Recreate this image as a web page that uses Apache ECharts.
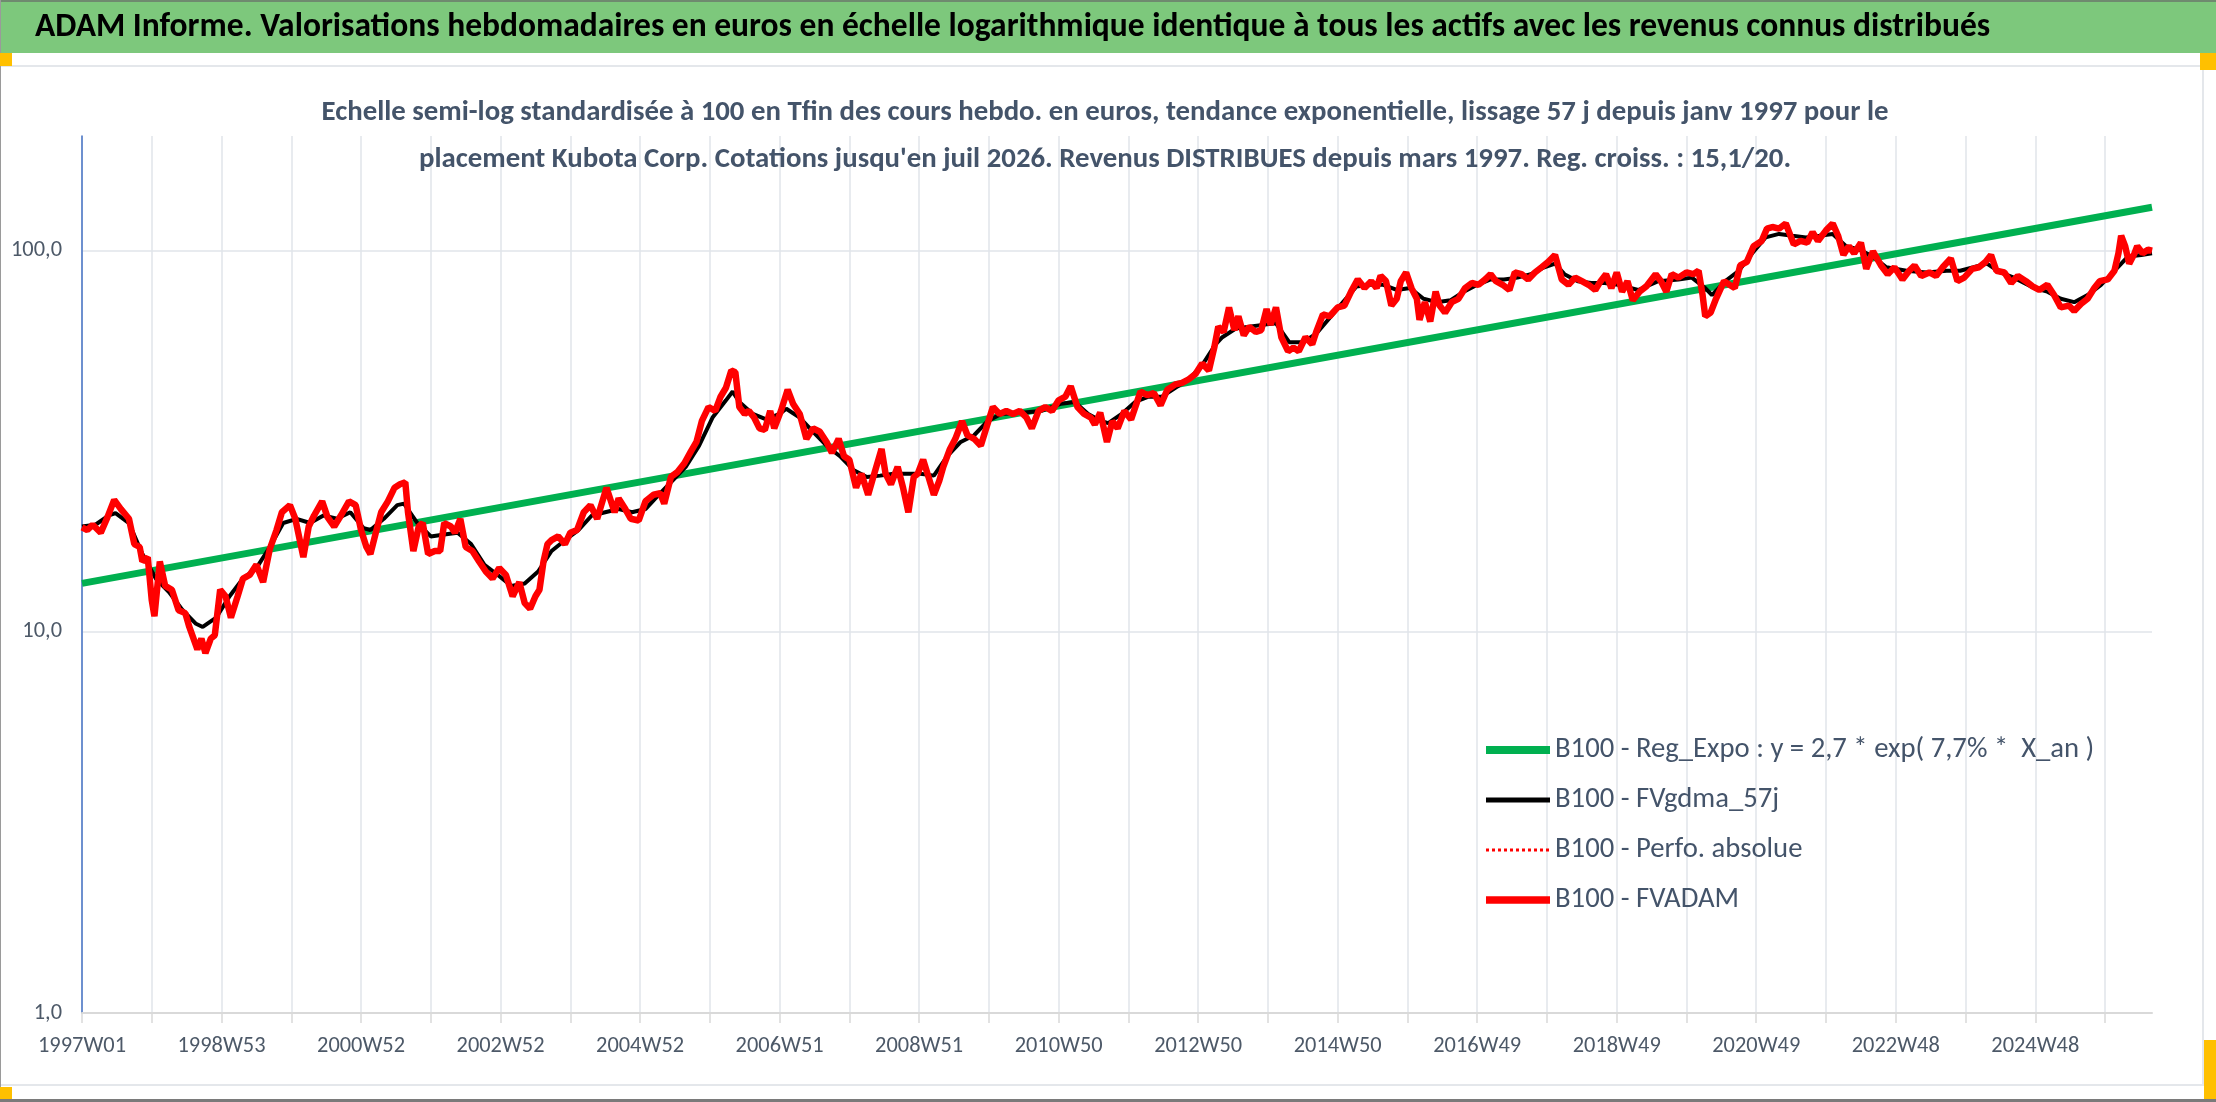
<!DOCTYPE html>
<html>
<head>
<meta charset="utf-8">
<script src="https://cdn.jsdelivr.net/npm/echarts@6/dist/echarts.min.js"></script>
<style>
  html, body { margin: 0; padding: 0; background: #fff; }
  #chart { width: 2216px; height: 1102px; }
</style>
</head>
<body>
<div id="chart"></div>
<script>
// semaines ISO : 1544 semaines à partir de 1997W01 (lundi 30/12/1996)
var firstMonday = Date.UTC(1996, 11, 30);
var weekCount = 1544;

// FVADAM (et Perfo. absolue) : [indice de semaine, valeur base 100]
var redIdx = [0,4,8,14,19,24,29,35,39,43,45,49,52,54,58,62,67,72,77,80,86,89,92,96,99,103,107,111,116,120,125,130,135,140,145,149,155,159,165,169,173,179,183,188,193,199,204,208,212,215,219,223,228,233,237,241,243,247,251,254,258,263,267,270,275,278,282,286,291,296,301,306,311,316,321,326,330,334,338,341,344,347,350,355,360,364,369,374,379,384,391,397,400,405,409,415,420,426,431,434,439,444,449,454,458,462,467,472,476,480,484,487,490,494,497,501,505,509,513,516,521,526,530,535,540,545,550,555,559,564,568,572,577,581,586,589,596,599,603,608,612,616,620,623,627,631,635,639,642,647,651,656,660,665,670,674,679,684,689,694,699,704,708,713,718,723,728,733,737,742,747,752,755,759,764,768,772,777,782,786,789,794,799,804,809,815,820,825,830,835,840,844,847,851,855,859,862,866,870,875,879,883,886,890,894,899,903,907,912,917,920,925,930,936,941,946,951,956,961,965,968,972,976,980,983,987,991,995,997,1001,1005,1009,1012,1016,1021,1026,1031,1036,1041,1046,1050,1054,1059,1064,1068,1073,1078,1083,1088,1093,1098,1103,1108,1113,1118,1123,1128,1132,1136,1140,1144,1148,1152,1156,1161,1166,1173,1177,1181,1185,1190,1196,1201,1205,1208,1210,1214,1218,1224,1228,1232,1236,1241,1246,1252,1256,1260,1265,1270,1276,1281,1286,1290,1294,1300,1305,1309,1313,1317,1321,1326,1330,1335,1341,1346,1351,1357,1362,1366,1371,1377,1382,1387,1393,1398,1403,1409,1414,1419,1423,1427,1433,1438,1443,1449,1454,1459,1465,1470,1475,1481,1485,1490,1495,1500,1504,1510,1515,1518,1520,1523,1526,1530,1532,1536,1540,1543];
var redVal = [18.8,18.5,19.1,18.2,20.0,22.2,21.0,19.8,17.0,16.7,15.3,15.7,12.1,11.0,15.3,13.2,12.9,11.4,11.2,10.3,9.0,9.6,8.8,9.6,9.8,12.9,12.4,10.9,12.4,13.8,14.1,15.0,13.5,16.5,18.5,20.6,21.5,19.8,15.7,18.9,20.2,22.0,20.0,18.9,20.2,22.0,21.5,18.5,16.7,16.0,18.2,20.6,22.0,23.9,24.4,24.7,20.6,16.3,18.9,19.3,16.0,16.3,16.3,19.3,18.9,18.2,19.8,16.7,16.3,15.3,14.4,13.8,14.7,14.1,12.4,13.5,11.9,11.5,12.4,12.9,15.3,17.0,17.4,17.8,17.0,18.2,18.5,20.6,21.5,19.8,23.9,20.6,22.4,21.0,19.8,19.6,22.0,22.9,23.1,21.7,25.5,26.3,27.7,29.8,31.5,35.7,38.9,38.0,41.4,43.7,48.5,48.0,38.9,37.3,38.0,36.5,34.2,33.9,38.0,34.2,38.0,43.2,39.7,37.3,32.1,34.2,33.5,31.5,29.5,32.1,28.9,28.3,23.9,26.0,22.9,24.9,30.2,26.0,24.4,27.1,23.9,20.6,25.5,26.0,28.3,25.5,22.9,24.9,27.1,30.2,32.1,35.7,32.8,32.1,30.8,34.2,38.9,37.3,38.0,37.3,38.0,36.5,34.2,38.0,38.9,38.0,40.5,41.4,44.1,38.9,37.3,36.5,35.0,37.6,31.5,35.7,34.2,38.0,36.1,39.7,42.7,41.8,42.3,39.3,43.2,44.6,45.0,46.0,47.5,50.6,48.5,55.7,63.2,61.2,71.0,61.9,67.3,60.0,63.2,61.2,61.9,70.3,63.9,71.0,59.3,54.5,55.7,54.5,59.3,56.8,61.2,68.1,67.3,71.0,71.8,78.1,84.1,79.8,83.2,79.8,85.9,83.2,71.8,74.8,83.2,87.7,79.8,74.8,65.9,73.3,65.2,78.1,71.8,68.8,73.3,74.8,79.8,82.3,81.4,84.1,86.8,83.2,81.4,78.9,87.7,86.8,84.1,87.7,90.5,93.5,97.5,84.1,81.4,85.0,83.2,81.4,78.9,83.2,86.8,79.8,87.7,78.1,83.2,74.1,78.1,80.6,86.8,83.2,78.1,86.8,85.0,87.7,86.8,88.6,76.5,67.3,68.8,74.8,83.2,81.4,79.8,91.5,93.5,102.8,106.1,114.3,115.4,114.3,117.9,103.9,106.1,105.0,111.9,106.1,113.1,117.9,109.5,97.5,102.8,98.5,105.0,89.6,99.6,91.5,86.8,90.5,84.1,88.6,91.5,85.9,87.7,85.9,90.5,95.5,83.2,85.0,89.6,90.5,93.5,97.5,88.6,87.7,82.3,85.9,83.2,80.6,78.9,81.4,76.5,71.0,71.8,69.5,72.5,74.8,79.8,83.2,84.1,88.6,98.5,109.5,102.8,92.5,98.5,102.8,98.5,100.6,100.0];

// FVgdma_57j (moyenne lissée)
var blackIdx = [0,10,20,25,35,45,55,65,75,85,90,100,110,120,130,140,150,160,170,180,190,200,210,215,225,235,240,250,260,270,280,290,300,310,320,330,340,350,360,370,380,390,400,410,420,430,440,450,460,470,480,485,490,500,510,520,525,535,545,555,565,575,585,595,605,615,625,635,645,655,665,675,685,700,715,730,740,750,760,765,775,785,795,805,815,825,835,845,850,860,870,880,890,900,910,920,930,940,950,960,970,980,990,1000,1010,1020,1030,1040,1050,1060,1070,1080,1090,1098,1105,1115,1125,1135,1145,1160,1175,1190,1200,1210,1215,1225,1235,1245,1255,1265,1275,1285,1295,1305,1315,1325,1335,1345,1360,1375,1390,1400,1410,1420,1430,1440,1455,1465,1475,1485,1495,1505,1515,1525,1535,1543];
var blackVal = [18.9,19.1,20.2,20.5,19.3,16.0,13.8,12.7,11.4,10.5,10.3,10.9,12.4,13.8,14.7,16.7,19.3,19.8,19.3,20.2,19.8,20.6,18.7,18.5,19.8,21.5,21.7,19.3,17.8,18.0,18.2,17.0,15.0,14.1,13.2,13.4,14.4,16.3,17.4,18.5,20.2,20.6,21.0,20.6,21.0,22.9,24.9,27.1,30.8,36.5,40.5,42.7,40.1,37.3,36.1,37.3,38.5,36.5,33.5,30.8,28.9,26.6,25.5,25.7,26.0,26.0,26.0,25.7,28.9,31.5,32.8,35.7,37.3,37.6,38.0,39.7,40.1,37.3,35.7,35.3,37.3,40.1,41.4,41.4,43.7,46.0,50.1,56.8,59.3,62.5,63.2,63.9,64.5,57.5,57.5,60.6,66.6,73.3,80.6,81.4,81.4,78.9,79.8,74.8,73.3,74.1,78.1,81.4,84.1,84.1,85.0,86.8,90.5,92.5,86.8,83.2,82.3,82.3,81.4,78.9,83.2,84.1,85.0,79.8,76.5,83.2,88.6,98.5,108.4,110.7,109.5,108.4,109.5,110.7,102.8,100.6,96.5,90.5,88.6,87.7,88.6,88.6,90.5,92.5,87.7,85.0,79.8,78.1,74.8,73.3,76.5,81.4,88.6,96.5,97.5,98.5];

// tendance exponentielle : extrémités
var trendIdx = [0, 1543];
var trendVal = [13.4, 130];

var yTickLabels = {1: '1,0', 10: '10,0', 100: '100,0'};

var seriesNames = [
  'B100 - Reg_Expo : y = 2,7 * exp( 7,7% *  X_an )',
  'B100 - FVgdma_57j',
  'B100 - Perfo. absolue',
  'B100 - FVADAM'
];
var seriesColors = ['#00b050', '#000000', '#ff0000', '#ff0000'];
var seriesWidths = [7, 4, 2, 6.5];

var headerText = 'ADAM Informe. Valorisations hebdomadaires en euros en échelle logarithmique identique à tous les actifs avec les revenus connus distribués';
var subLine1 = 'Echelle semi-log standardisée à 100 en Tfin des cours hebdo. en euros, tendance exponentielle, lissage 57 j depuis janv 1997 pour le';
var subLine2 = "placement Kubota Corp. Cotations jusqu'en juil 2026. Revenus DISTRIBUES depuis mars 1997. Reg. croiss. : 15,1/20.";

function isoWeekLabel(ms) {
  var thu = new Date(ms + 3 * 86400000);
  var y = thu.getUTCFullYear();
  var wk = Math.floor((thu - Date.UTC(y, 0, 1)) / 86400000 / 7) + 1;
  return y + 'W' + (wk < 10 ? '0' + wk : wk);
}
var weeks = [];
for (var i = 0; i < weekCount; i++) {
  weeks.push(isoWeekLabel(firstMonday + i * 7 * 86400000));
}

function pairs(idx, val) {
  return idx.map(function (x, k) { return [x, val[k]]; });
}

var FONT = 'Carlito, Calibri, Lato, sans-serif';
// taille de police ajustée pour retrouver la largeur du texte d'origine
var ctx = document.createElement('canvas').getContext('2d');
function fitSize(text, weight, target) {
  ctx.font = weight + ' 100px ' + FONT;
  return Math.round(1000 * target / ctx.measureText(text).width) / 10;
}
var headerSize = fitSize(headerText, 'bold', 1953);
var subSize = fitSize(subLine1, 'bold', 1567);
var legendSize = fitSize(seriesNames[0], 'normal', 540);
var axisSize = fitSize('1997W01', 'normal', 88);

var myChart = echarts.init(document.getElementById('chart'));
var option = {
  animation: false,
  backgroundColor: '#ffffff',
  textStyle: { fontFamily: FONT },
  graphic: [
    { type: 'rect', shape: { x: 0, y: 0, width: 2216, height: 2 }, style: { fill: '#6f8a6f' } },
    { type: 'rect', shape: { x: 0, y: 2, width: 2216, height: 51 }, style: { fill: '#7dc87c' } },
    { type: 'rect', shape: { x: 0, y: 65, width: 2204, height: 2 }, style: { fill: '#e4e7eb' } },
    { type: 'rect', shape: { x: 2202, y: 66, width: 2, height: 1020 }, style: { fill: '#e4e7eb' } },
    { type: 'rect', shape: { x: 0, y: 1084, width: 2204, height: 2 }, style: { fill: '#e4e7eb' } },
    { type: 'rect', shape: { x: 0, y: 0, width: 1, height: 1102 }, style: { fill: '#9a9a9a' } },
    { type: 'rect', shape: { x: 0, y: 1099, width: 2216, height: 3 }, style: { fill: '#7a7a7a' } },
    { type: 'rect', shape: { x: 0, y: 53, width: 12, height: 13 }, style: { fill: '#ffc000' } },
    { type: 'rect', shape: { x: 2200, y: 53, width: 16, height: 17 }, style: { fill: '#ffc000' } },
    { type: 'rect', shape: { x: 0, y: 1087, width: 12, height: 12 }, style: { fill: '#ffc000' } },
    { type: 'rect', shape: { x: 2204, y: 1040, width: 12, height: 59 }, style: { fill: '#ffc000' } },
    {
      type: 'text', z: 10,
      style: {
        text: headerText, x: 35, y: 28, textVerticalAlign: 'middle',
        font: 'bold ' + headerSize + 'px ' + FONT, fill: '#000000'
      }
    },
    {
      type: 'text', z: 10,
      style: {
        text: subLine1 + '\n' + subLine2, x: 1105, y: 136,
        textAlign: 'center', textVerticalAlign: 'middle', lineHeight: 47,
        font: 'bold ' + subSize + 'px ' + FONT, fill: '#44546a'
      }
    }
  ],
  legend: {
    orient: 'vertical',
    left: 1477, top: 730,
    itemWidth: 64, itemHeight: 14, itemGap: 20,
    textStyle: { fontFamily: FONT, fontSize: legendSize, color: '#44546a', lineHeight: 30 },
    data: seriesNames.map(function (n, k) {
      return { name: n, itemStyle: { opacity: 0 }, lineStyle: { width: seriesWidths[k] + 1 } };
    })
  },
  grid: { left: 82, right: 64, top: 136, bottom: 89, containLabel: false },
  xAxis: {
    type: 'category',
    data: weeks,
    boundaryGap: false,
    axisLine: { lineStyle: { color: '#d9d9d9', width: 2 } },
    axisTick: { show: true, interval: 51, length: 10, lineStyle: { color: '#d9d9d9', width: 1.5 } },
    axisLabel: { interval: 103, margin: 22, fontFamily: FONT, fontSize: axisSize, color: '#4d5968' },
    splitLine: { show: true, interval: 51, lineStyle: { color: '#e1e5ea', width: 1.5 } }
  },
  yAxis: {
    type: 'log',
    logBase: 10,
    min: 1,
    max: 200,
    axisLine: { show: true, lineStyle: { color: '#4472c4', width: 1.5 } },
    axisTick: { show: false },
    axisLabel: {
      margin: 20, fontFamily: FONT, fontSize: axisSize, color: '#4d5968',
      formatter: function (v) { return yTickLabels[Math.round(v)] || ''; }
    },
    splitLine: { show: true, lineStyle: { color: ['#e1e5ea', '#e1e5ea', '#e1e5ea', 'rgba(0,0,0,0)'], width: 1.5 } }
  },
  series: [
    {
      name: seriesNames[0], type: 'line', symbol: 'none', z: 2,
      data: pairs(trendIdx, trendVal),
      lineStyle: { color: seriesColors[0], width: seriesWidths[0] }, itemStyle: { color: seriesColors[0] }
    },
    {
      name: seriesNames[1], type: 'line', symbol: 'none', z: 3,
      data: pairs(blackIdx, blackVal),
      lineStyle: { color: seriesColors[1], width: seriesWidths[1] }, itemStyle: { color: seriesColors[1] }
    },
    {
      name: seriesNames[2], type: 'line', symbol: 'none', z: 4,
      data: pairs(redIdx, redVal),
      lineStyle: { color: seriesColors[2], width: seriesWidths[2], type: 'dotted' }, itemStyle: { color: seriesColors[2] }
    },
    {
      name: seriesNames[3], type: 'line', symbol: 'none', z: 5,
      data: pairs(redIdx, redVal),
      lineStyle: { color: seriesColors[3], width: seriesWidths[3] }, itemStyle: { color: seriesColors[3] }
    }
  ]
};
myChart.setOption(option);
</script>
</body>
</html>
